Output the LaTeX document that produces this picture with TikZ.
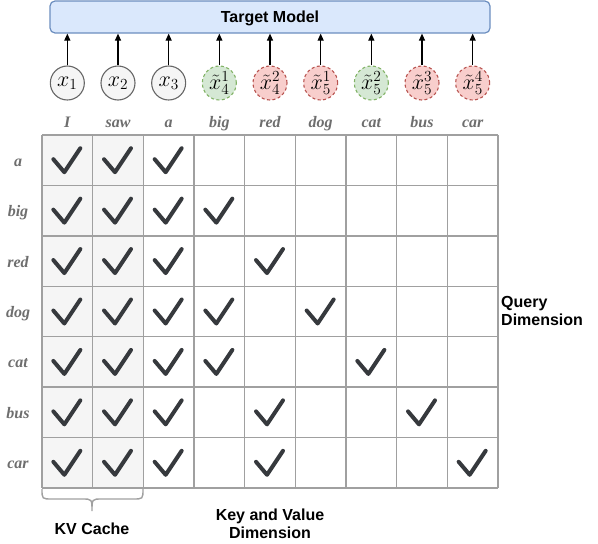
\documentclass[tikz,border=0pt]{standalone}
\usepackage{fix-cm}
\usepackage{fontspec}
\newfontfamily\sansb{Liberation Sans}
\newfontfamily\serifl{Liberation Serif}
\usetikzlibrary{arrows.meta}
\definecolor{tmfill}{HTML}{DAE8FC}
\definecolor{tmdraw}{HTML}{6C8EBF}
\definecolor{gfill}{HTML}{F5F5F5}
\definecolor{gdraw}{HTML}{666666}
\definecolor{grfill}{HTML}{D5E8D4}
\definecolor{grdraw}{HTML}{82B366}
\definecolor{rdfill}{HTML}{F8CECC}
\definecolor{rddraw}{HTML}{B85450}
\definecolor{gridc}{HTML}{A0A0A0}
\definecolor{chkc}{HTML}{36393D}
\definecolor{lblc}{HTML}{6E6E6E}
\tikzset{
  tmbox/.style={draw=tmdraw, fill=tmfill, line width=1.2pt, rounded corners=5pt},
  tok/.style={circle, minimum size=34pt, inner sep=0pt, line width=1.1pt, font=\fontsize{22}{26}\selectfont},
  tokgray/.style={tok, draw=gdraw, fill=gfill},
  tokgreen/.style={tok, draw=grdraw, fill=grfill, dash pattern=on 3pt off 2.5pt},
  tokred/.style={tok, draw=rddraw, fill=rdfill, dash pattern=on 3pt off 2.5pt},
  arr/.style={line width=1.2pt, -{Triangle[length=7pt,width=6pt]}},
  lbl/.style={text=lblc, font=\serifl\bfseries\itshape\fontsize{16}{18}\selectfont, anchor=base, inner sep=0pt},
  gridline/.style={draw=gridc, line width=1.5pt},
  checkline/.style={draw=chkc, line width=4pt, line cap=round, line join=round},
  sanslbl/.style={font=\sansb\bfseries\fontsize{16}{18}\selectfont, inner sep=0pt, align=center},
  chk/.pic={\draw[checkline] (-14,-1) -- (-3,12) -- (13,-12);}
}
\begin{document}
\begin{tikzpicture}[x=1pt,y=-1pt]
\useasboundingbox (0,0) rectangle (598,544);
% target model box
\node[tmbox, minimum width=440pt, minimum height=32pt, inner sep=0pt] (tm) at (270,17) {};
\node[sanslbl, anchor=base] (tmt) at (270,22) {Target Model};
% tokens
\node[tokgray]  (c1) at ({42+50.667*0.5},83) {$x_1$};
\node[tokgray]  (c2) at ({42+50.667*1.5},83) {$x_2$};
\node[tokgray]  (c3) at ({42+50.667*2.5},83) {$x_3$};
\node[tokgreen] (c4) at ({42+50.667*3.5},83) {$\tilde{x}_4^1$};
\node[tokred]   (c5) at ({42+50.667*4.5},83) {$\tilde{x}_4^2$};
\node[tokred]   (c6) at ({42+50.667*5.5},83) {$\tilde{x}_5^1$};
\node[tokgreen] (c7) at ({42+50.667*6.5},83) {$\tilde{x}_5^2$};
\node[tokred]   (c8) at ({42+50.667*7.5},83) {$\tilde{x}_5^3$};
\node[tokred]   (c9) at ({42+50.667*8.5},83) {$\tilde{x}_5^4$};
\foreach \i in {1,...,9} \draw[arr] (c\i.north) -- (c\i.north |- tm.south);
% column labels
\foreach \w [count=\k from 0] in {I,saw,a,big,red,dog,cat,bus,car}
  \node[lbl] (col\k) at ({42+50.667*(\k+0.5)},127) {\w};
% row labels
\foreach \w [count=\k from 0] in {a,big,red,dog,cat,bus,car}
  \node[lbl] (row\k) at (18,{135+50.43*(\k+0.5)+6}) {\w};
% grid
\foreach \c in {0,1} \fill[gfill] ({42+50.667*\c},135) rectangle ({42+50.667*(\c+1)},488);
\foreach \i in {0,...,9} \draw[gridline] ({42+50.667*\i},135) -- ({42+50.667*\i},488);
\foreach \j in {0,...,7} \draw[gridline] (42,{135+50.43*\j}) -- (498,{135+50.43*\j});
% checks
\foreach \c/\r in {0/0,1/0,2/0,
                   0/1,1/1,2/1,3/1,
                   0/2,1/2,2/2,4/2,
                   0/3,1/3,2/3,3/3,5/3,
                   0/4,1/4,2/4,3/4,6/4,
                   0/5,1/5,2/5,4/5,7/5,
                   0/6,1/6,2/6,4/6,8/6}
  \pic at ({42+50.667*(\c+0.5)},{135+50.43*(\r+0.5)}) {chk};
% brace
\draw[draw=gridc, line width=1.4pt]
  (42,489) .. controls (42,499) .. (52,499) -- (82,499) .. controls (92,499) .. (92,511)
  .. controls (92,499) .. (102,499) -- (133,499) .. controls (143,499) .. (143,489);
% captions
\node[sanslbl, anchor=base] (kv) at (92,534) {KV Cache};
\node[sanslbl, anchor=center] (kvd) at (270,524) {Key and Value\\Dimension};
\node[sanslbl, anchor=west, align=left] (qd) at (501,311) {Query\\Dimension};
\end{tikzpicture}
\end{document}
